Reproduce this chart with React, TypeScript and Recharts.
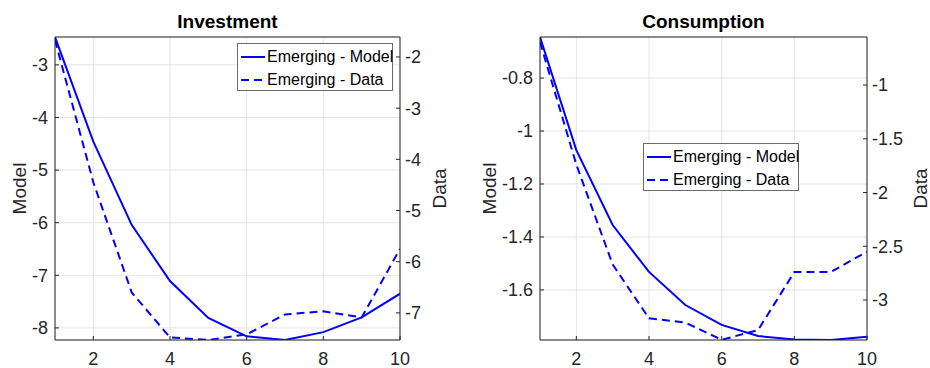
import React from 'react';
import { LineChart, Line, XAxis, YAxis, CartesianGrid, Legend, ReferenceLine } from 'recharts';

const steps = [1, 2, 3, 4, 5, 6, 7, 8, 9, 10];
const investModel = [-2.47, -4.46, -6.04, -7.11, -7.81, -8.16, -8.23, -8.08, -7.8, -7.35];
const investData = [-1.67, -4.45, -6.6, -7.48, -7.53, -7.42, -7.03, -6.97, -7.09, -5.75];
const consModel = [-0.645, -1.072, -1.355, -1.532, -1.657, -1.732, -1.774, -1.787, -1.789, -1.777];
const consData = [-0.6, -1.74, -2.67, -3.17, -3.21, -3.37, -3.28, -2.74, -2.74, -2.55];

const xTicks = [2, 4, 6, 8, 10];
const investModelTicks = [-8, -7, -6, -5, -4, -3];
const investDataTicks = [-7, -6, -5, -4, -3, -2];
const consModelTicks = [-1.6, -1.4, -1.2, -1, -0.8];
const consDataTicks = [-3, -2.5, -2, -1.5, -1];

const seriesNames = ['Emerging - Model', 'Emerging - Data'];

const FONT = '"Liberation Sans", Arial, sans-serif';
const BLUE = '#0000ff';
const AXIS = '#262626';

const investRows = steps.map((s, i) => ({ step: s, model: investModel[i], data: investData[i] }));
const consRows = steps.map((s, i) => ({ step: s, model: consModel[i], data: consData[i] }));

const tickStyle = { fontSize: 18, fill: AXIS, fontFamily: FONT };

const yLabel = (text: string, dx: number) => (props: any) => {
  const vb = props.viewBox || {};
  const cx = (vb.x || 0) + dx;
  const cy = (vb.y || 0) + (vb.height || 0) / 2;
  return (
    <text
      x={cx}
      y={cy}
      transform={`rotate(-90 ${cx} ${cy})`}
      textAnchor="middle"
      dominantBaseline="central"
      fontSize={19}
      fontFamily={FONT}
      fill={AXIS}
    >
      {text}
    </text>
  );
};

const titleLabel = (text: string) => (props: any) => {
  const vb = props.viewBox || {};
  const cx = (vb.x || 0) + (vb.width || 0) / 2;
  return (
    <text x={cx} y={28} textAnchor="middle" fontSize={19} fontWeight="bold" fontFamily={FONT} fill="#000">
      {text}
    </text>
  );
};

const LegendContent = () => (
  <div
    style={{
      width: 156,
      height: 48,
      border: '1px solid #6a6a6a',
      background: '#fff',
      boxSizing: 'border-box',
      fontFamily: FONT,
      fontSize: 16,
      color: '#000',
      position: 'relative',
    }}
  >
    {seriesNames.map((name, i) => (
      <div
        key={name}
        style={{ position: 'absolute', left: 2, top: i === 0 ? 3 : 26, height: 20, display: 'flex', alignItems: 'center', whiteSpace: 'nowrap' }}
      >
        <svg width={26} height={20} style={{ display: 'block' }}>
          <line x1={1} y1={10} x2={25} y2={10} stroke={BLUE} strokeWidth={2} strokeDasharray={i === 1 ? '8 5' : undefined} />
        </svg>
        <span style={{ marginLeft: 1 }}>{name}</span>
      </div>
    ))}
  </div>
);

type PanelProps = {
  rows: any[];
  title: string;
  left: number;
  leftW: number;
  rightW: number;
  modelDomain: [number, number];
  dataDomain: [number, number];
  modelTicks: number[];
  dataTicks: number[];
  modelLabelDx: number;
  dataLabelDx: number;
  legendLeft: number;
  legendTop: number;
};

const Panel = (p: PanelProps) => (
  <div style={{ position: 'absolute', left: p.left, top: 0 }}>
    <LineChart width={465} height={368} data={p.rows} margin={{ top: 37, right: 0, bottom: 0, left: 0 }}>
      <CartesianGrid stroke="#e4e4e4" strokeWidth={1} yAxisId="model" />
      <XAxis
        dataKey="step"
        type="number"
        domain={[1, 10]}
        ticks={xTicks}
        allowDataOverflow
        height={28}
        axisLine={{ stroke: AXIS }}
        tickLine={{ stroke: AXIS }}
        tickSize={-4}
        tickMargin={16}
        tick={tickStyle}
        interval={0}
      />
      <YAxis
        yAxisId="model"
        orientation="left"
        type="number"
        width={p.leftW}
        domain={p.modelDomain}
        ticks={p.modelTicks}
        allowDataOverflow
        axisLine={{ stroke: AXIS }}
        tickLine={{ stroke: AXIS }}
        tickSize={-4}
        tickMargin={11}
        tick={tickStyle}
        interval={0}
        label={{ value: 'Model', content: yLabel('Model', p.modelLabelDx) }}
      />
      <YAxis
        yAxisId="data"
        orientation="right"
        type="number"
        width={p.rightW}
        domain={p.dataDomain}
        ticks={p.dataTicks}
        allowDataOverflow
        axisLine={{ stroke: AXIS }}
        tickLine={{ stroke: AXIS }}
        tickSize={-4}
        tickMargin={9}
        tick={{ ...tickStyle, textAnchor: 'start' }}
        interval={0}
        label={{ value: 'Data', content: yLabel('Data', p.dataLabelDx) }}
      />
      <ReferenceLine
        yAxisId="model"
        y={p.modelDomain[1]}
        stroke={AXIS}
        strokeWidth={1}
        ifOverflow="visible"
        label={{ value: p.title, content: titleLabel(p.title) }}
      />
      <Legend
        layout="vertical"
        align="center"
        verticalAlign="middle"
        content={<LegendContent />}
        wrapperStyle={{ position: 'absolute', left: p.legendLeft, top: p.legendTop, width: 156, height: 48 }}
      />
      <Line
        yAxisId="model"
        dataKey="model"
        name={seriesNames[0]}
        stroke={BLUE}
        strokeWidth={2}
        dot={false}
        isAnimationActive={false}
      />
      <Line
        yAxisId="data"
        dataKey="data"
        name={seriesNames[1]}
        stroke={BLUE}
        strokeWidth={2}
        strokeDasharray="8 5"
        dot={false}
        isAnimationActive={false}
      />
    </LineChart>
  </div>
);

export default function App() {
  return (
    <div style={{ position: 'absolute', left: 0, top: 0, width: 930, height: 368, background: '#fff', fontFamily: FONT, overflow: 'hidden' }}>
      <Panel
        rows={investRows}
        title="Investment"
        left={0}
        leftW={55}
        rightW={65}
        modelDomain={[-8.23, -2.47]}
        dataDomain={[-7.53, -1.61]}
        modelTicks={investModelTicks}
        dataTicks={investDataTicks}
        modelLabelDx={19}
        dataLabelDx={39}
        legendLeft={237}
        legendTop={43}
      />
      <Panel
        rows={consRows}
        title="Consumption"
        left={465}
        leftW={75}
        rightW={63}
        modelDomain={[-1.789, -0.645]}
        dataDomain={[-3.372, -0.553]}
        modelTicks={consModelTicks}
        dataTicks={consDataTicks}
        modelLabelDx={24}
        dataLabelDx={53}
        legendLeft={643 - 465}
        legendTop={143}
      />
    </div>
  );
}
